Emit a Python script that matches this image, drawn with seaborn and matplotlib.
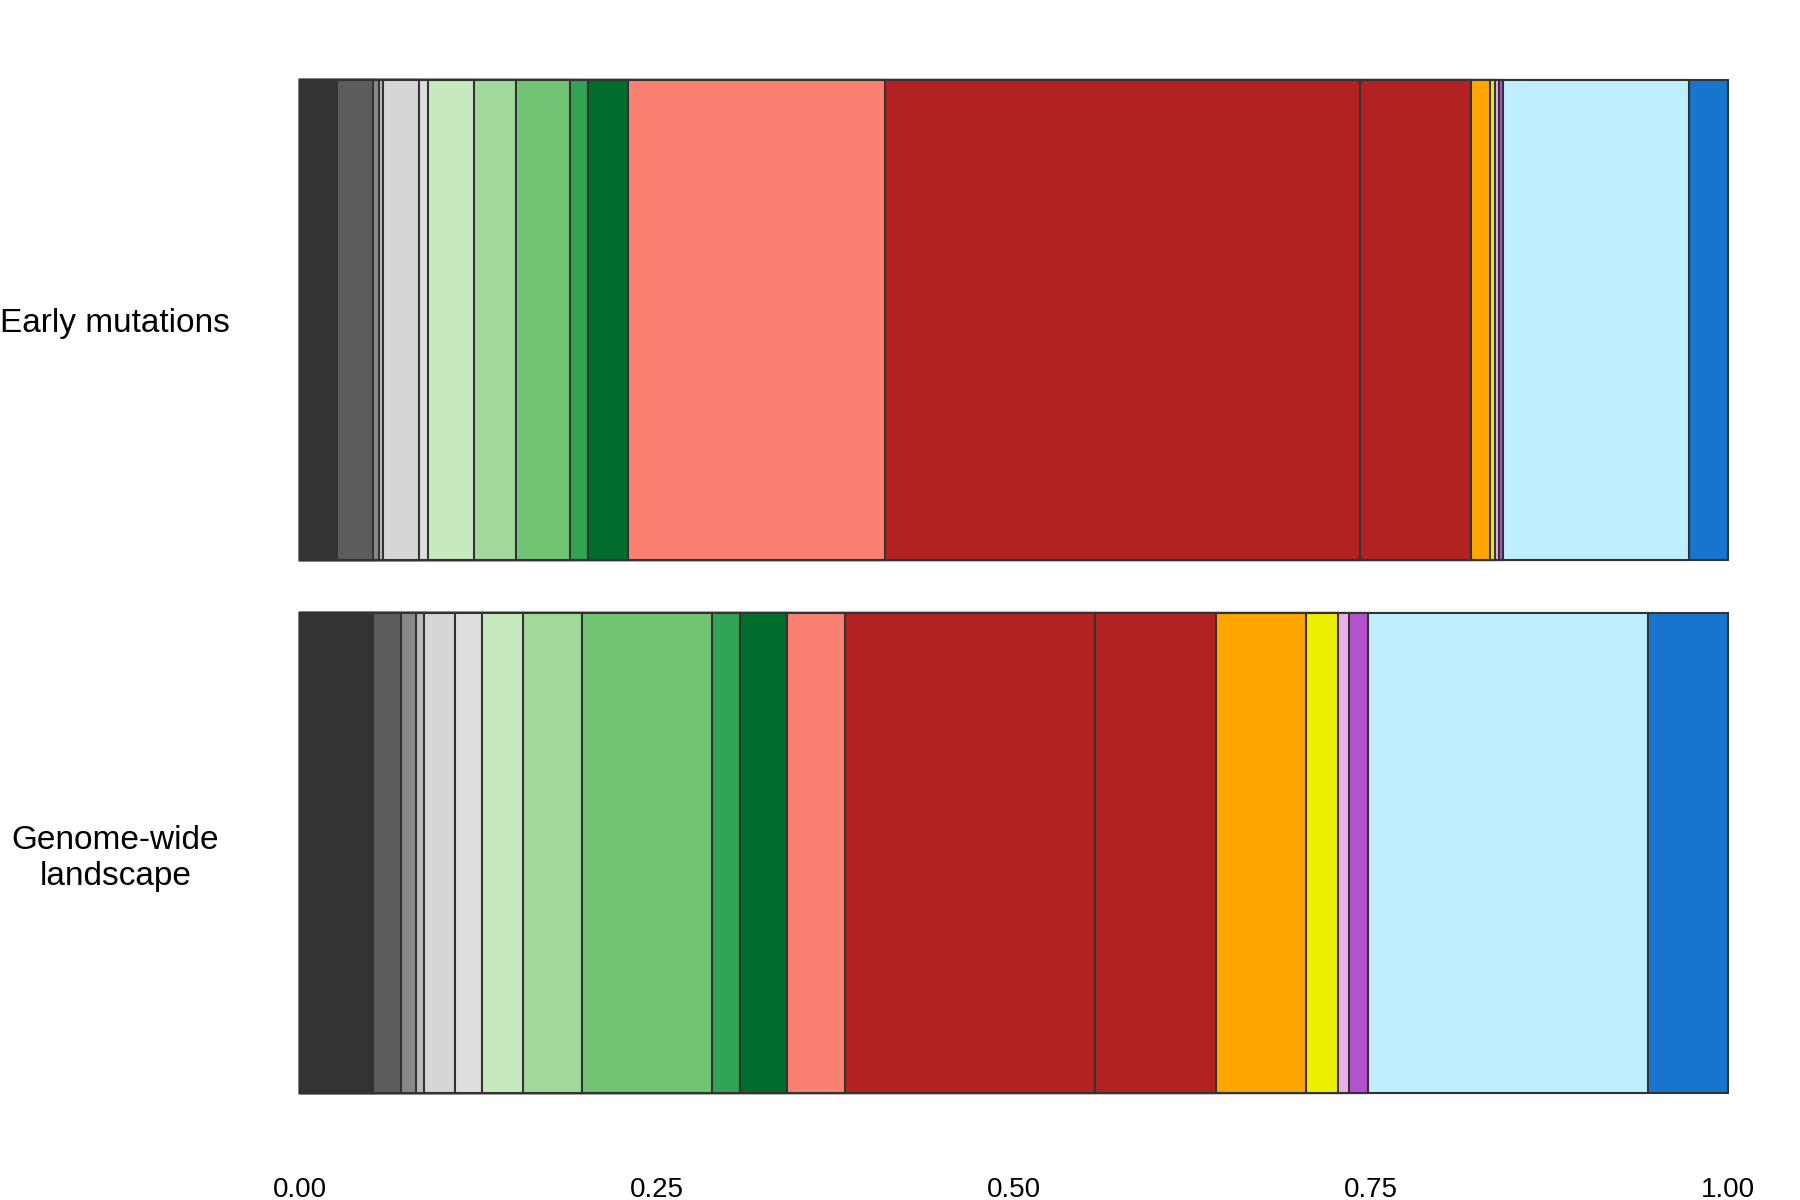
import matplotlib
matplotlib.use("Agg")
import matplotlib.pyplot as plt
import seaborn as sns
import numpy as np
import pandas as pd

# ---- data ----
groups = ["Early mutations", "Genome-wide\nlandscape"]
categories = ["C01", "C02", "C03", "C04", "C05", "C06", "C07", "C08", "C09", "C10",
              "C11", "C12", "C13", "C14", "C15", "C16", "C17", "C18", "C19", "C20"]
early_values = [0.0261, 0.0249, 0.0043, 0.0026, 0.0256, 0.0063, 0.0322, 0.0292, 0.0376, 0.0128,
                0.0278, 0.1804, 0.3326, 0.0775, 0.0135, 0.0030, 0.0028, 0.0028, 0.1307, 0.0273]
genome_values = [0.0513, 0.0196, 0.0103, 0.0056, 0.0219, 0.0185, 0.0287, 0.0417, 0.0909, 0.0193,
                 0.0331, 0.0406, 0.1749, 0.0847, 0.0632, 0.0226, 0.0077, 0.0129, 0.1965, 0.0560]
palette = ["#333333", "#5c5c5c", "#888888", "#bababa", "#d6d6d6", "#dedede",
           "#c7e9c0", "#a1d99b", "#74c476", "#31a354", "#006d2c",
           "#fa8072", "#b22222", "#b22222", "#ffa500", "#eeee00", "#eeaeee",
           "#b452cd", "#bfefff", "#1874cd"]
xticks = [0.0, 0.25, 0.5, 0.75, 1.0]
xticklabels = ["0.00", "0.25", "0.50", "0.75", "1.00"]

df = pd.DataFrame({
    "group": np.repeat(groups, len(categories)),
    "category": categories * len(groups),
    "value": early_values + genome_values,
})
df["cum"] = df.groupby("group", sort=False)["value"].cumsum()

sns.set_style("white")
plt.rcParams["font.family"] = ["Liberation Sans", "DejaVu Sans"]

fig = plt.figure(figsize=(18, 12), dpi=100)
ax = fig.add_axes([300 / 1800, 1 - 1172.6 / 1200, 1428.3 / 1800, 1172.6 / 1200])

# stacked bars: draw cumulative totals from the outermost segment inwards
for k in range(len(categories) - 1, -1, -1):
    sub = df[df["category"] == categories[k]]
    sns.barplot(data=sub, x="cum", y="group", order=groups, orient="h",
                color=palette[k], saturation=1, width=0.9, errorbar=None,
                edgecolor="#333333", linewidth=1.5, ax=ax)
for p in ax.patches:
    p.set_clip_on(False)

ax.set_xlim(0, 1)
ax.set_ylim(1.6, -0.6)
ax.set_xlabel("")
ax.set_ylabel("")
ax.set_xticks(xticks)
ax.set_xticklabels(xticklabels, fontsize=20, color="black")
ax.tick_params(axis="x", length=0, pad=3)
ax.tick_params(axis="y", length=0, pad=133)
ax.set_yticks([0, 1])
ax.set_yticklabels(groups, fontsize=24, color="black")
for lab in ax.get_yticklabels():
    lab.set_horizontalalignment("center")
    lab.set_linespacing(1.18)
for s in ax.spines.values():
    s.set_visible(False)
ax.grid(False)

fig.savefig("out.png", dpi=100)
